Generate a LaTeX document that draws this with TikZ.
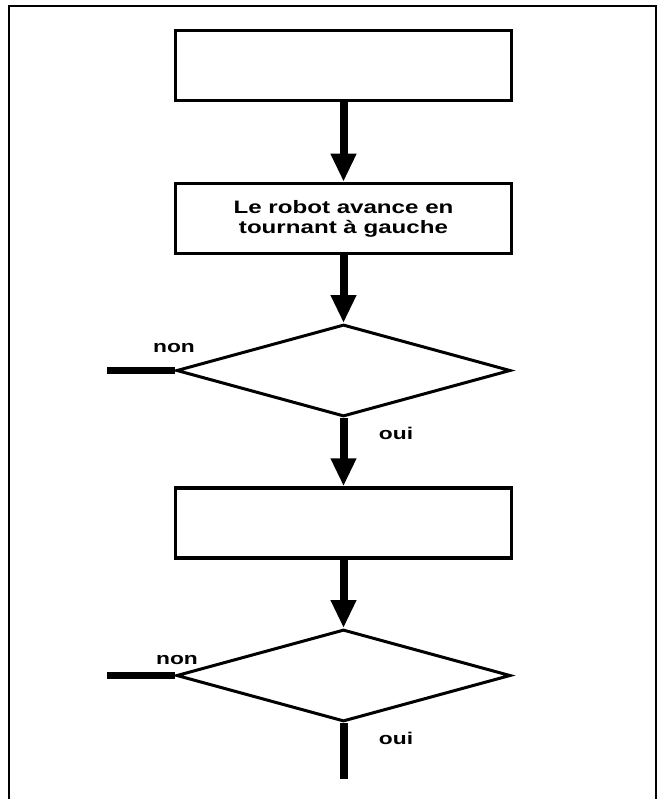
\documentclass[tikz,border=0pt]{standalone}
\usepackage{fontspec}
\newfontfamily\lblfont{Liberation Sans}[FakeStretch=1.34]
\usetikzlibrary{arrows.meta,shapes.geometric}
\begin{document}
\begin{tikzpicture}[x=1pt,y=-1pt,
  stepbox/.style={draw,line width=3.5pt,rectangle,minimum width=336pt,minimum height=70pt,inner sep=0pt,
    font=\lblfont\bfseries\fontsize{18}{20}\selectfont,align=center},
  decision/.style={draw,line width=3pt,diamond,minimum width=334pt,minimum height=92pt,inner sep=0pt,aspect=3.6},
  flow/.style={line width=8pt,-{Triangle[width=24pt,length=28pt]}},
  stub/.style={line width=7pt},
  lbl/.style={font=\lblfont\bfseries\fontsize{17}{20}\selectfont,inner sep=0pt}]
\useasboundingbox (0,0) rectangle (662,799);
\draw[line width=2pt] (9,6) rectangle (656,812);
\node[stepbox] (b1) at (343.5,65.5) {};
\node[stepbox] (b2) at (343.5,218.5) {Le robot avance en\\tournant à gauche};
\node[decision] (d1) at (343.5,370.5) {};
\node[stepbox] (b3) at (343.5,523) {};
\node[decision] (d2) at (343.5,675.5) {};
\coordinate (s1) at (107,370.5);
\coordinate (s2) at (107,675.5);
\coordinate (e2) at (343.5,779);
\draw[flow] (b1.south) -- (b2.north);
\draw[flow] (b2.south) -- (d1.north);
\draw[flow] (d1.south) -- (b3.north);
\draw[flow] (b3.south) -- (d2.north);
\draw[stub] (d1.west) -- (s1);
\draw[stub] (d2.west) -- (s2);
\draw[line width=8pt] (d2.south) -- (e2);
\node[lbl] (n1) at (174,348) {non};
\node[lbl] (o1) at (396,433) {oui};
\node[lbl] (n2) at (177,660) {non};
\node[lbl] (o2) at (396,738) {oui};
\end{tikzpicture}
\end{document}
